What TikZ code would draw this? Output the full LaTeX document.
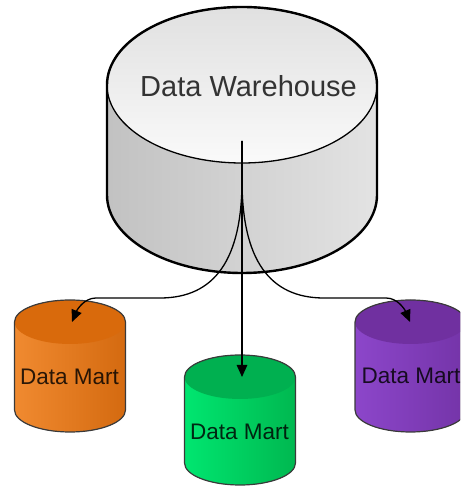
\documentclass[tikz,border=0pt]{standalone}
\usepackage{fontspec}
\setmainfont{Liberation Sans}
\usetikzlibrary{arrows.meta}
\definecolor{dwtext}{HTML}{333333}
\definecolor{orTop}{HTML}{D96A0C}
\definecolor{orL}{HTML}{F08A30}
\definecolor{orR}{HTML}{D46A10}
\definecolor{grTop}{HTML}{00B050}
\definecolor{grL}{HTML}{00E670}
\definecolor{grR}{HTML}{00B850}
\definecolor{puTop}{HTML}{7030A0}
\definecolor{puL}{HTML}{8C46CA}
\definecolor{puR}{HTML}{7434A8}
\definecolor{martline}{HTML}{3A3A3A}
\newcommand{\martcyl}[4]{% cx, topcy, botcy, colour prefix
  \fill[left color=#4L, right color=#4R] (#1-55.5,#2) -- (#1-55.5,#3)
     arc[start angle=180,end angle=360,x radius=55.5,y radius=22] -- (#1+55.5,#2)
     arc[start angle=0,end angle=180,x radius=55.5,y radius=22] -- cycle;
  \fill[#4Top] (#1,#2) ellipse[x radius=55.5,y radius=22];
  \draw[martedge] (#1-55.5,#2) -- (#1-55.5,#3)
     arc[start angle=180,end angle=360,x radius=55.5,y radius=22] -- (#1+55.5,#2)
     arc[start angle=0,end angle=180,x radius=55.5,y radius=22] -- cycle;
}
\begin{document}
\begin{tikzpicture}[x=1pt,y=1pt,
  martedge/.style={draw=martline,line width=1.2pt},
  dwedge/.style={draw=black,line width=2.4pt},
  martlabel/.style={anchor=base,inner sep=0pt,text=black,text opacity=0.82,font=\fontsize{22.5}{26}\selectfont},
  dwlabel/.style={anchor=base,inner sep=0pt,text=dwtext,font=\fontsize{29}{34}\selectfont},
  link/.style={draw=black,line width=1.3pt,-{Triangle[length=12pt,width=10.5pt]}}]
\useasboundingbox (0,0) rectangle (460,489);
\clip (0,0) rectangle (460,489);
% Data Warehouse cylinder
\fill[left color=black!24, right color=black!11] (107,404) -- (107,294)
   arc[start angle=180,end angle=360,x radius=135,y radius=78] -- (377,404)
   arc[start angle=0,end angle=180,x radius=135,y radius=78] -- cycle;
\fill[top color=black!12, bottom color=black!2] (242,404) ellipse[x radius=135,y radius=78];
\draw[dwedge] (107,404) -- (107,294)
   arc[start angle=180,end angle=360,x radius=135,y radius=78] -- (377,404)
   arc[start angle=0,end angle=180,x radius=135,y radius=78] -- cycle;
\draw[draw=black,line width=1.3pt] (242,404) ellipse[x radius=135,y radius=78];
\node[dwlabel] (dw) at (248.5,392) {Data Warehouse};
% Data Marts
\martcyl{70}{167}{79}{or}
\martcyl{240}{112}{26}{gr}
\martcyl{410.5}{167}{79}{pu}
\node[martlabel] (m1) at (69.5,104) {Data Mart};
\node[martlabel] (m2) at (239.5,49) {Data Mart};
\node[martlabel] (m3) at (411,105) {Data Mart};
% connectors
\coordinate (src) at (242,348);
\coordinate (split) at (242,309);
\coordinate (t1) at (72,167);
\coordinate (t2) at (242,112);
\coordinate (t3) at (410,167);
\draw[link] (src) -- (t2);
\draw[link] (src) -- (split) .. controls (242,230) and (215,191) .. (160,191)
   -- (96,191) .. controls (84,191) and (77,179) .. (t1);
\draw[link] (src) -- (split) .. controls (242,230) and (269,191) .. (324,191)
   -- (386,191) .. controls (398,191) and (405,179) .. (t3);
\end{tikzpicture}
\end{document}
